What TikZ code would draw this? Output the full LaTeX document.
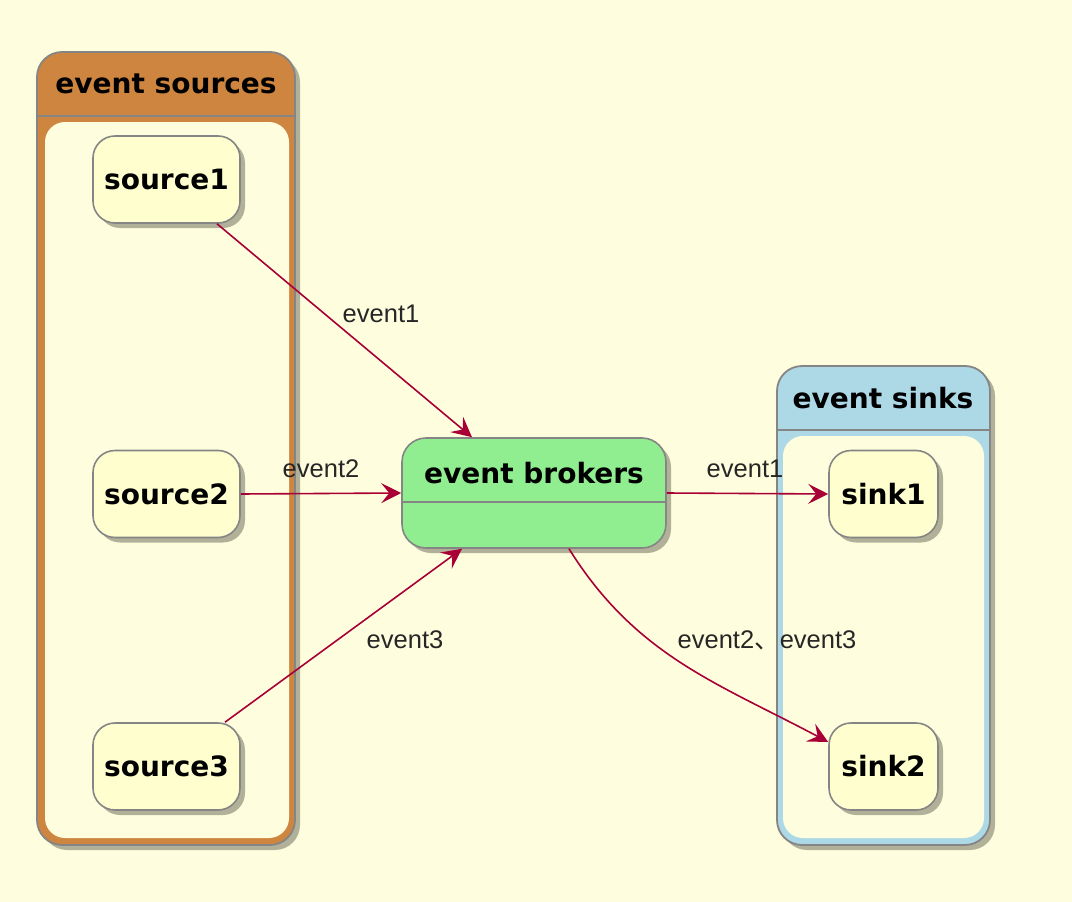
\documentclass[tikz,border=0pt]{standalone}
\usepackage{fontspec}
\setmainfont{DejaVu Sans}
\newfontfamily\lblfont{Liberation Sans}
\newfontfamily\cjkfont{Noto Sans CJK SC}
\usetikzlibrary{shadows,arrows.meta}
\definecolor{bgc}{HTML}{FEFEDE}
\definecolor{statefill}{HTML}{FEFECE}
\definecolor{bordc}{HTML}{858585}
\definecolor{arrc}{HTML}{A80036}
\definecolor{peru}{HTML}{CD853F}
\definecolor{lblue}{HTML}{ADD8E6}
\definecolor{lgreen}{HTML}{90EE90}
\tikzset{
  shad/.style={drop shadow={shadow xshift=5pt,shadow yshift=-5pt,fill=black,opacity=0.3}},
  statebox/.style={shad,draw=bordc,line width=1.6pt,fill=statefill,rounded corners=22pt,
    minimum height=87pt,font=\fontsize{28}{30}\selectfont\bfseries,inner sep=0pt},
  titletxt/.style={font=\fontsize{28}{30}\selectfont\bfseries,inner sep=0pt},
  lbl/.style={font=\lblfont\fontsize{25.5}{27}\selectfont,text=black!85,inner sep=0pt},
  flow/.style={draw=arrc,line width=1.6pt,-{Stealth[length=20pt,width=20pt,inset=8pt]}},
}
\begin{document}
\begin{tikzpicture}[x=1pt,y=-1pt]
\useasboundingbox (0,0) rectangle (1072,902);
\fill[bgc] (0,0) rectangle (1072,902);
% event sources container
\path[shad,fill=peru,draw=bordc,line width=1.8pt,rounded corners=25pt] (37,52) rectangle (295,845);
\draw[bordc,line width=1.8pt] (37,116) -- (295,116);
\fill[bgc,rounded corners=20pt] (45,122) rectangle (289,838);
\node[titletxt] (srctitle) at (166,84) {event sources};
% event sinks container
\path[shad,fill=lblue,draw=bordc,line width=1.8pt,rounded corners=25pt] (777,366) rectangle (990,845);
\draw[bordc,line width=1.8pt] (777,430) -- (990,430);
\fill[bgc,rounded corners=20pt] (783,436) rectangle (984,838);
\node[titletxt] (sinktitle) at (883,398) {event sinks};
% states
\node[statebox,minimum width=147pt] (source1) at (166.5,179.5) {source1};
\node[statebox,minimum width=147pt] (source2) at (166.5,494) {source2};
\node[statebox,minimum width=147pt] (source3) at (166.5,766.5) {source3};
\node[statebox,minimum width=109pt] (sink1) at (883.5,494) {sink1};
\node[statebox,minimum width=109pt] (sink2) at (883.5,766.5) {sink2};
% brokers
\node[shad,draw=bordc,line width=1.6pt,fill=lgreen,rounded corners=24pt,minimum width=264pt,minimum height=110pt,inner sep=0pt] (brokers) at (534,493) {};
\draw[bordc,line width=1.6pt] (brokers.west |- 0,502) -- (brokers.east |- 0,502);
\node[titletxt] (brokertitle) at (534,473) {event brokers};
% connectors
\draw[flow] ([xshift=50.5pt]source1.south) -- ([xshift=-62pt]brokers.north);
\draw[flow] (source2.east) -- (brokers.west);
\draw[flow] ([xshift=58.5pt]source3.north) -- ([xshift=-72pt]brokers.south);
\draw[flow] (brokers.east) -- (sink1.west);
\draw[flow] ([xshift=35pt]brokers.south) to[out=-58,in=152] ([yshift=24.5pt]sink2.west);
% labels
\node[lbl] (l1) at (381,314) {event1};
\node[lbl] (l2) at (321,469) {event2};
\node[lbl] (l3) at (405,640) {event3};
\node[lbl] (l4) at (745,469) {event1};
\node[lbl] (l5) at (767,640) {event2{\cjkfont 、}event3};
\end{tikzpicture}
\end{document}
